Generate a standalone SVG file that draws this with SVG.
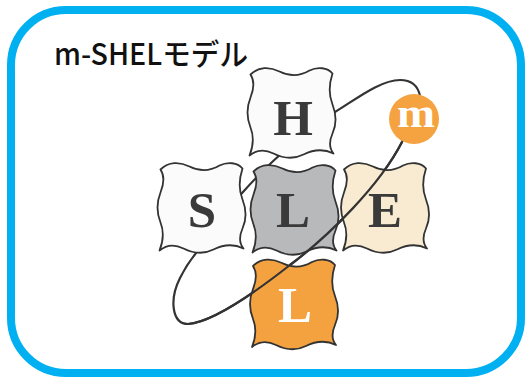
<svg xmlns="http://www.w3.org/2000/svg" xmlns:xlink="http://www.w3.org/1999/xlink" width="525" height="377" viewBox="0 0 525 377">
  <style>
    .frame { fill: #ffffff; stroke: #00b0f0; stroke-width: 8; }
    .title { font-family: "Noto Sans CJK JP", "Noto Sans", sans-serif; font-size: 30px; font-weight: 500; fill: #111111; }
    .tile { stroke: #333333; stroke-width: 1.8; stroke-linejoin: round; }
    .letter { font-family: "Liberation Serif", "DejaVu Serif", serif; font-weight: bold; font-size: 51px; text-anchor: middle; fill: #3a3a3a; }
    .orbit { fill: none; stroke: #333333; stroke-width: 2.2; }
  </style>
  <defs>
    <path id="tile" d="M -41,-38 C -33,-46 -22,-46 -12,-41 C -2,-36 8,-36 18,-42 C 26,-46 36,-45 41,-39 C 37,-27 37,-18 41,-8 C 45,2 45,12 41,21 C 37,30 38,36 42,41 C 32,36 22,37 12,42 C 2,47 -8,46 -18,41 C -28,36 -36,38 -42,43 C -38,33 -37,25 -41,15 C -45,5 -45,-5 -41,-15 C -37,-25 -37,-32 -41,-38 Z"/>
  </defs>

  <rect class="frame" x="11" y="10" width="510" height="363" rx="55" ry="55"/>
  <text class="title" x="54" y="65" textLength="194" lengthAdjust="spacingAndGlyphs">m-SHELモデル</text>

  <g id="connectors-back">
    <path class="orbit" d="M 402,142 C 380,185 330,235 290,265 C 262,287 215,322 188,324 C 172,324 169,300 180,278 C 185.5,267 191,259 197,252 C 210,236 225,212 243,192 C 270,162 305,130 335,112 C 355,100 380,80 400,80 C 412,80 418,86 420,96 Z"/>
  </g>

  <g id="node-H">
    <use xlink:href="#tile" class="tile" fill="#fbfbfb" transform="translate(291.5,112.5)"/>
    <text class="letter" x="293" y="135">H</text>
  </g>
  <g id="node-S">
    <use xlink:href="#tile" class="tile" fill="#fbfbfb" transform="translate(201.5,207.5)"/>
    <text class="letter" x="202" y="227">S</text>
  </g>
  <g id="node-L-center">
    <use xlink:href="#tile" class="tile" fill="#b8b9bb" stroke="#555555" transform="translate(294.5,209.5)"/>
    <text class="letter" x="293" y="227">L</text>
  </g>
  <g id="node-E">
    <use xlink:href="#tile" class="tile" fill="#f9ebd1" transform="translate(385,207.5)"/>
    <text class="letter" x="385" y="227">E</text>
  </g>
  <g id="node-L-bottom">
    <use xlink:href="#tile" class="tile" fill="#f4a23f" transform="translate(294,304)"/>
    <text class="letter" x="295" y="322" style="fill:#ffffff">L</text>
  </g>

  <g id="connectors-front">
    <path class="orbit" d="M 402,142 C 380,185 330,235 290,265 C 262,287 215,322 188,324"/>
  </g>

  <g id="node-m">
    <circle cx="414" cy="119" r="25" fill="#f4a340"/>
    <text class="letter" x="416" y="127" style="fill:#ffffff; font-size:41px" textLength="38" lengthAdjust="spacingAndGlyphs">m</text>
  </g>
</svg>
